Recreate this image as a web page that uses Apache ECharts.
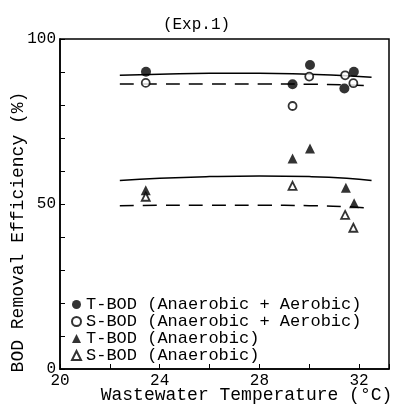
<!DOCTYPE html>
<html>
<head>
<meta charset="utf-8">
<script src="https://cdn.jsdelivr.net/npm/echarts@6/dist/echarts.min.js"></script>
<style>
  html, body { margin: 0; padding: 0; background: #fff; }
  #chart { width: 393px; height: 410px; }
</style>
</head>
<body>
<div id="chart"></div>
<script>
// measured points (temperature °C, removal %)
const tbodAnAeTemp = [23.45, 29.33, 30.03, 31.41, 31.79]
const tbodAnAe = [90.1, 86.3, 92.1, 85.0, 90.1]
const sbodAnAeTemp = [23.44, 29.33, 30.0, 31.44, 31.77]
const sbodAnAe = [86.7, 79.7, 88.6, 89.0, 86.6]
const tbodAnTemp = [23.44, 29.33, 30.03, 31.47, 31.8]
const tbodAn = [54.2, 63.8, 66.8, 54.9, 50.2]
const sbodAnTemp = [23.44, 29.33, 31.44, 31.77]
const sbodAn = [52.2, 55.5, 46.7, 42.8]

// fitted curves
const fitTemp = [22.4, 24, 26, 28, 30, 31.5, 32.5]
const fitTAnAe = [89.0, 89.3, 89.6, 89.6, 89.3, 88.9, 88.4]
const fitSAnAe = [86.4, 86.4, 86.4, 86.4, 86.3, 86.1, 85.8]
const fitTAn = [57.1, 57.8, 58.3, 58.5, 58.3, 57.8, 57.1]
const fitSAn = [49.5, 49.6, 49.6, 49.6, 49.5, 49.2, 48.7]

const names = [
  'T-BOD (Anaerobic + Aerobic)',
  'S-BOD (Anaerobic + Aerobic)',
  'T-BOD (Anaerobic)',
  'S-BOD (Anaerobic)'
]

const FONT = 'Liberation Mono'
const zip = (xs, ys) => xs.map((x, i) => [x, ys[i]])

const fitLine = (ys, dashed) => ({
  type: 'line',
  data: zip(fitTemp, ys),
  smooth: true,
  symbol: 'none',
  silent: true,
  z: 1,
  lineStyle: {color: '#000', width: 1.5, type: dashed ? [14, 9] : 'solid'}
})

const chart = echarts.init(document.getElementById('chart'))
chart.setOption({
  animation: false,
  backgroundColor: '#fff',
  title: {
    text: '(Exp.1)',
    left: 'center',
    top: 12,
    textStyle: {fontFamily: FONT, fontSize: 16, fontWeight: 'normal', color: '#000'}
  },
  legend: {
    data: names,
    orient: 'vertical',
    left: 66,
    top: 291,
    itemWidth: 9,
    itemHeight: 9,
    itemGap: 0,
    textStyle: {fontFamily: FONT, fontSize: 17, color: '#000', lineHeight: 16}
  },
  grid: {
    left: 60, right: 4, top: 39, bottom: 41,
    outerBoundsMode: 'none',
    containLabel: false,
    show: true, borderColor: '#000', borderWidth: 1.5
  },
  xAxis: {
    type: 'value',
    min: 20, max: 33.2, interval: 2,
    name: 'Wastewater Temperature (°C)',
    nameLocation: 'middle',
    nameGap: 17,
    nameMoveOverlap: false,
    nameTextStyle: {fontFamily: FONT, fontSize: 18, color: '#000', padding: [0, 0, 0, 44]},
    axisLine: {lineStyle: {color: '#000', width: 1.5}},
    axisTick: {inside: true, length: 5, lineStyle: {color: '#000'}},
    splitLine: {show: false},
    axisLabel: {
      fontFamily: FONT, fontSize: 16, color: '#000', margin: 4,
      formatter: v => (v % 4 === 0 ? String(v) : '')
    }
  },
  yAxis: {
    type: 'value',
    min: 0, max: 100, interval: 10,
    axisLine: {lineStyle: {color: '#000', width: 1.5}},
    axisTick: {inside: true, length: 5, lineStyle: {color: '#000'}},
    splitLine: {show: false},
    axisLabel: {
      fontFamily: FONT, fontSize: 16, color: '#000', margin: 4,
      formatter: v => (v % 50 === 0 ? String(v) : '')
    }
  },
  graphic: [{
    type: 'text',
    x: 18, y: 232,
    rotation: Math.PI / 2,
    style: {
      text: 'BOD Removal Efficiency (%)',
      fontFamily: FONT, fontSize: 18, fill: '#000',
      align: 'center', verticalAlign: 'middle'
    }
  }],
  series: [
    fitLine(fitTAnAe, false),
    fitLine(fitSAnAe, true),
    fitLine(fitTAn, false),
    fitLine(fitSAn, true),
    {
      name: names[0], type: 'scatter', z: 3,
      data: zip(tbodAnAeTemp, tbodAnAe),
      symbol: 'circle', symbolSize: 10,
      itemStyle: {color: '#000'}
    },
    {
      name: names[1], type: 'scatter', z: 3,
      data: zip(sbodAnAeTemp, sbodAnAe),
      symbol: 'circle', symbolSize: 8,
      itemStyle: {color: '#fff', borderColor: '#000', borderWidth: 1.8}
    },
    {
      name: names[2], type: 'scatter', z: 3,
      data: zip(tbodAnTemp, tbodAn),
      symbol: 'triangle', symbolSize: 10,
      itemStyle: {color: '#000'}
    },
    {
      name: names[3], type: 'scatter', z: 3,
      data: zip(sbodAnTemp, sbodAn),
      symbol: 'triangle', symbolSize: 8,
      itemStyle: {color: '#fff', borderColor: '#000', borderWidth: 1.8}
    }
  ]
})
</script>
</body>
</html>
